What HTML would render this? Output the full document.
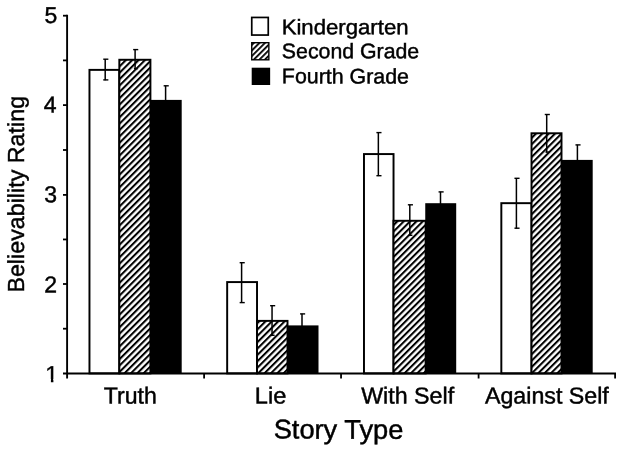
<!DOCTYPE html>
<html><head><meta charset="utf-8"><title>Believability Rating by Story Type</title>
<style>
html,body{margin:0;padding:0;background:#fff;}
body{width:624px;height:453px;overflow:hidden;}
svg{display:block;}
text{font-family:"Liberation Sans",Arial,Helvetica,sans-serif;fill:#000;stroke:#000;stroke-width:0.45;}
</style></head><body>
<svg width="624" height="453" viewBox="0 0 624 453">
<defs>
<pattern id="hatch" patternUnits="userSpaceOnUse" width="4.5" height="8" patternTransform="rotate(45)">
<rect x="0" y="0" width="2.05" height="8" fill="#000"/>
</pattern>
<pattern id="hatchL" patternUnits="userSpaceOnUse" x="0.65" width="3.93" height="8" patternTransform="rotate(45)">
<rect x="0" y="0" width="1.8" height="8" fill="#000"/>
</pattern>
</defs>
<rect x="0" y="0" width="624" height="453" fill="#fff"/>
<rect x="89.47" y="69.88" width="29.85" height="303.52" fill="#fff" stroke="#000" stroke-width="1.95"/>
<rect x="119.33" y="59.77" width="31.08" height="313.62" fill="#fff"/>
<rect x="119.33" y="59.77" width="31.08" height="313.62" fill="url(#hatch)" stroke="#000" stroke-width="1.95"/>
<rect x="150.00" y="99.90" width="31.70" height="273.50" fill="#000"/>
<path d="M105.20 59.10V80.30" stroke="#000" stroke-width="1.5" fill="none"/>
<path d="M103.25 59.20h5.1" stroke="#000" stroke-width="1.4" fill="none"/>
<path d="M103.25 79.90h5.1" stroke="#000" stroke-width="1.4" fill="none"/>
<path d="M135.10 49.50V69.10" stroke="#000" stroke-width="1.5" fill="none"/>
<path d="M133.15 49.60h5.1" stroke="#000" stroke-width="1.4" fill="none"/>
<path d="M133.90 68.70h3.8" stroke="#000" stroke-width="1.4" fill="none"/>
<path d="M165.60 85.70V101.60" stroke="#000" stroke-width="1.5" fill="none"/>
<path d="M163.65 85.80h5.1" stroke="#000" stroke-width="1.4" fill="none"/>
<rect x="227.17" y="282.08" width="29.85" height="91.32" fill="#fff" stroke="#000" stroke-width="1.95"/>
<rect x="257.02" y="320.88" width="30.48" height="52.52" fill="#fff"/>
<rect x="257.02" y="320.88" width="30.48" height="52.52" fill="url(#hatch)" stroke="#000" stroke-width="1.95"/>
<rect x="287.10" y="325.40" width="31.40" height="48.00" fill="#000"/>
<path d="M241.60 262.60V303.00" stroke="#000" stroke-width="1.5" fill="none"/>
<path d="M239.65 262.70h5.1" stroke="#000" stroke-width="1.4" fill="none"/>
<path d="M239.65 302.60h5.1" stroke="#000" stroke-width="1.4" fill="none"/>
<path d="M272.05 305.60V335.70" stroke="#000" stroke-width="1.5" fill="none"/>
<path d="M270.10 305.70h5.1" stroke="#000" stroke-width="1.4" fill="none"/>
<path d="M270.85 335.30h3.8" stroke="#000" stroke-width="1.4" fill="none"/>
<path d="M302.00 313.80V327.10" stroke="#000" stroke-width="1.5" fill="none"/>
<path d="M300.05 313.90h5.1" stroke="#000" stroke-width="1.4" fill="none"/>
<rect x="363.98" y="154.07" width="29.55" height="219.32" fill="#fff" stroke="#000" stroke-width="1.95"/>
<rect x="393.52" y="220.78" width="32.12" height="152.62" fill="#fff"/>
<rect x="393.52" y="220.78" width="32.12" height="152.62" fill="url(#hatch)" stroke="#000" stroke-width="1.95"/>
<rect x="425.25" y="203.20" width="30.95" height="170.20" fill="#000"/>
<path d="M378.35 132.50V176.10" stroke="#000" stroke-width="1.5" fill="none"/>
<path d="M376.40 132.60h5.1" stroke="#000" stroke-width="1.4" fill="none"/>
<path d="M376.40 175.70h5.1" stroke="#000" stroke-width="1.4" fill="none"/>
<path d="M409.80 204.70V235.70" stroke="#000" stroke-width="1.5" fill="none"/>
<path d="M407.85 204.80h5.1" stroke="#000" stroke-width="1.4" fill="none"/>
<path d="M408.60 235.30h3.8" stroke="#000" stroke-width="1.4" fill="none"/>
<path d="M440.50 191.80V204.90" stroke="#000" stroke-width="1.5" fill="none"/>
<path d="M438.55 191.90h5.1" stroke="#000" stroke-width="1.4" fill="none"/>
<rect x="501.33" y="203.17" width="30.20" height="170.22" fill="#fff" stroke="#000" stroke-width="1.95"/>
<rect x="531.52" y="133.28" width="29.98" height="240.12" fill="#fff"/>
<rect x="531.52" y="133.28" width="29.98" height="240.12" fill="url(#hatch)" stroke="#000" stroke-width="1.95"/>
<rect x="561.10" y="159.90" width="31.60" height="213.50" fill="#000"/>
<path d="M516.40 178.20V228.60" stroke="#000" stroke-width="1.5" fill="none"/>
<path d="M514.45 178.30h5.1" stroke="#000" stroke-width="1.4" fill="none"/>
<path d="M514.45 228.20h5.1" stroke="#000" stroke-width="1.4" fill="none"/>
<path d="M546.70 114.40V152.50" stroke="#000" stroke-width="1.5" fill="none"/>
<path d="M544.75 114.50h5.1" stroke="#000" stroke-width="1.4" fill="none"/>
<path d="M545.50 152.10h3.8" stroke="#000" stroke-width="1.4" fill="none"/>
<path d="M577.40 144.80V161.60" stroke="#000" stroke-width="1.5" fill="none"/>
<path d="M575.45 144.90h5.1" stroke="#000" stroke-width="1.4" fill="none"/>
<path d="M67.1 14.8V378.4" stroke="#000" stroke-width="1.9" fill="none"/>
<path d="M63 373.4H616.0" stroke="#000" stroke-width="2" fill="none"/>
<path d="M63 328.70H67" stroke="#000" stroke-width="1.8" fill="none"/>
<path d="M63 284.00H67" stroke="#000" stroke-width="1.8" fill="none"/>
<path d="M63 239.45H67" stroke="#000" stroke-width="1.8" fill="none"/>
<path d="M63 194.90H67" stroke="#000" stroke-width="1.8" fill="none"/>
<path d="M63 150.00H67" stroke="#000" stroke-width="1.8" fill="none"/>
<path d="M63 105.10H67" stroke="#000" stroke-width="1.8" fill="none"/>
<path d="M63 60.40H67" stroke="#000" stroke-width="1.8" fill="none"/>
<path d="M63 15.70H67" stroke="#000" stroke-width="1.8" fill="none"/>
<path d="M204.1 373.4V378.5" stroke="#000" stroke-width="1.8" fill="none"/>
<path d="M341.05 373.4V378.5" stroke="#000" stroke-width="1.8" fill="none"/>
<path d="M478.6 373.4V378.5" stroke="#000" stroke-width="1.8" fill="none"/>
<path d="M615.1 373.4V378.5" stroke="#000" stroke-width="1.8" fill="none"/>
<text transform="translate(57.99 381.90) rotate(0.05)" font-size="23" text-anchor="end">1</text>
<rect x="44.20" y="379.00" width="6.70" height="4.5" fill="#fff"/>
<rect x="53.40" y="379.00" width="5" height="4.5" fill="#fff"/>
<text transform="translate(57.15 292.50) rotate(0.05)" font-size="23" text-anchor="end">2</text>
<text transform="translate(57.03 202.30) rotate(0.05)" font-size="23" text-anchor="end">3</text>
<text transform="translate(56.62 112.50) rotate(0.05)" font-size="23" text-anchor="end">4</text>
<text transform="translate(57.26 22.90) rotate(0.05)" font-size="23" text-anchor="end">5</text>
<text transform="translate(103.82 403.5) rotate(0.05)" font-size="23.1" textLength="52.99" lengthAdjust="spacingAndGlyphs">Truth</text>
<text transform="translate(254.83 403.5) rotate(0.05)" font-size="23.1" textLength="31.43" lengthAdjust="spacingAndGlyphs">Lie</text>
<text transform="translate(361.20 403.5) rotate(0.05)" font-size="23.1" textLength="92.92" lengthAdjust="spacingAndGlyphs">With Self</text>
<text transform="translate(484.98 403.5) rotate(0.05)" font-size="23.1" textLength="123.83" lengthAdjust="spacingAndGlyphs">Against Self</text>
<text transform="translate(273.69 438.6) rotate(0.05)" font-size="27.1" textLength="129.60" lengthAdjust="spacingAndGlyphs">Story Type</text>
<text transform="translate(24.0 194) rotate(-90.05)" x="-98.64" y="0" font-size="23.2" textLength="196.71" lengthAdjust="spacingAndGlyphs">Believability Rating</text>
<rect x="251.75" y="17.45" width="16.5" height="17.6" fill="#fff" stroke="#000" stroke-width="1.7"/>
<rect x="251.75" y="42.7" width="17.1" height="17.1" fill="#fff"/>
<rect x="251.75" y="42.7" width="17.1" height="17.1" fill="url(#hatchL)" stroke="#000" stroke-width="1.4"/>
<rect x="251.7" y="67.7" width="18.45" height="17.3" fill="#000"/>
<text transform="translate(281.64 34.25) rotate(0.05)" font-size="21.1" textLength="126.91" lengthAdjust="spacingAndGlyphs">Kindergarten</text>
<text transform="translate(281.86 58.25) rotate(0.05)" font-size="21.1" textLength="137.36" lengthAdjust="spacingAndGlyphs">Second Grade</text>
<text transform="translate(281.84 83.35) rotate(0.05)" font-size="21.1" textLength="127.13" lengthAdjust="spacingAndGlyphs">Fourth Grade</text>
</svg>
</body></html>
